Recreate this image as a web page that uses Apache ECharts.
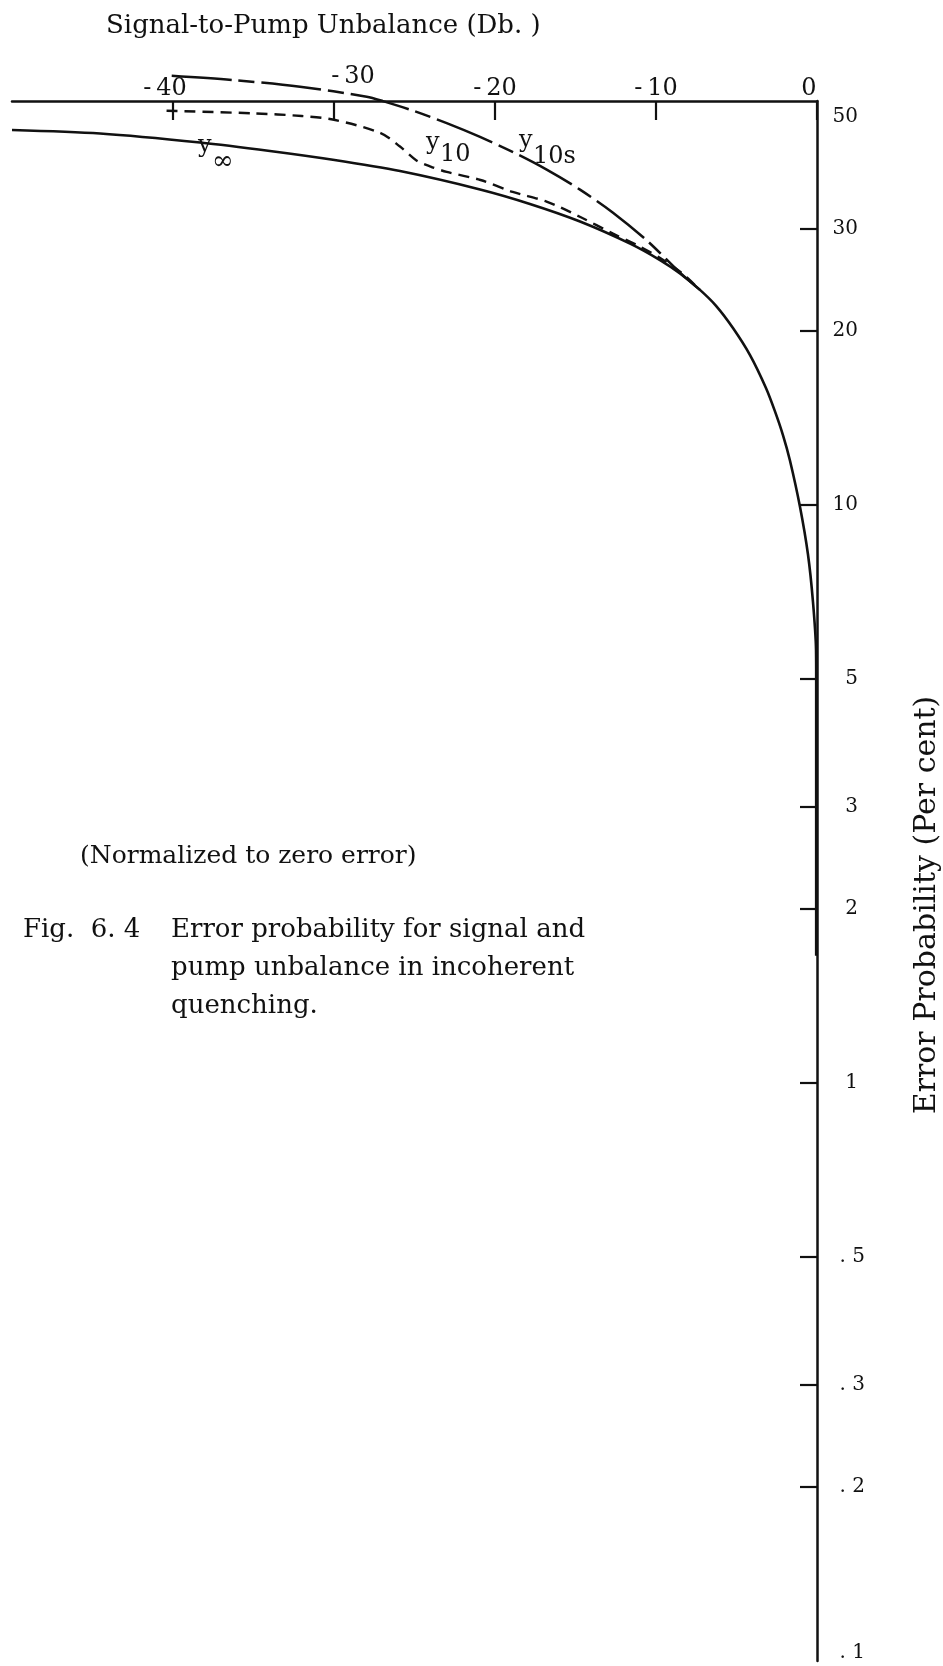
<!DOCTYPE html>
<html><head><meta charset="utf-8">
<script src="https://cdn.jsdelivr.net/npm/echarts@6/dist/echarts.min.js"></script>
<style>html,body{margin:0;padding:0;background:#fff}#c{width:943px;height:1666px}</style>
</head><body><div id="c"></div>
<script>
// ---- data ----
const xTickValues = [-40, -30, -20, -10, 0];
const xTickLabels = ['-\u200940', '-\u200930', '-\u200920', '-\u200910', '0'];
const yTickValues = [30, 20, 10, 5, 3, 2, 1, 0.5, 0.3, 0.2];
const yLabelValues = [50, 30, 20, 10, 5, 3, 2, 1, 0.5, 0.3, 0.2, 0.1];
const yLabelTexts = ['50', '30', '20', '10', '5', '3', '2', '1', '. 5', '. 3', '. 2', '. 1'];

// y-infinity (solid)
const yInfDb  = [-50, -44.53, -38.32, -33.98, -30.07, -25.90, -20.93, -17.83, -14.72, -11.61, -9.75, -8.51, -7.27, -6.27, -5.22, -4.16, -3.17, -2.61, -2.11, -1.68, -1.06, -0.56, -0.25, -0.06, -0.05, -0.05, -0.05, -0.05];
const yInfPct = [44.55, 43.93, 42.38, 40.98, 39.57, 37.82, 35.15, 33.18, 30.94, 28.33, 26.53, 25.15, 23.56, 22.11, 20.24, 18.17, 15.94, 14.52, 13.20, 11.94, 9.94, 8.21, 6.80, 5.61, 4.98, 3.0, 2.2, 1.66];
// y10 (short dashes)
const y10Db  = [-40.4, -35, -32, -30, -27.1, -25.9, -24.9, -24.0, -23.0, -20.9, -18.9, -16.8, -14.7, -12.7, -11.0, -9.6, -8.4, -7.27];
const y10Pct = [48.1, 47.6, 47.1, 46.4, 44.0, 41.7, 39.5, 38.5, 37.7, 36.5, 34.8, 33.5, 31.5, 29.5, 28.0, 26.6, 25.2, 23.56];
// y10s (long dashes)
const y10sDb  = [-40.08, -36.27, -32.11, -27.97, -26.96, -25.09, -23.0, -20.93, -18.88, -16.79, -14.72, -12.67, -10.58, -8.51, -7.27];
const y10sPct = [55.30, 54.36, 52.93, 50.86, 49.98, 48.11, 45.77, 43.33, 40.79, 38.04, 35.13, 32.05, 28.70, 25.24, 23.56];

const titleText = 'Signal-to-Pump Unbalance (Db. )';
const yNameText = 'Error Probability (Per cent)';
const noteText = '(Normalized to zero error)';
const captionHead = 'Fig.  6. 4';
const captionLines = ['Error probability for signal and', 'pump unbalance in incoherent', 'quenching.'];

// ---- build ----
const FONT = '"DejaVu Serif", serif';
const INK = '#111';
const toPts = (xs, ps) => xs.map((x, i) => [x, Math.log10(ps[i])]);

function nearest(arr, v, f) {
  let best = 0, bd = 1e9;
  arr.forEach((p, i) => { const d = Math.abs(f(p) - v); if (d < bd) { bd = d; best = i; } });
  return best;
}
function yLabelFmt(v) {
  const i = nearest(yLabelValues, v, Math.log10);
  const t = yLabelTexts[i];
  if (i === 0) return '{top|' + t + '}';
  if (i === yLabelValues.length - 1) return '{bot|' + t + '}';
  return t.charAt(0) === '.' ? '{dec|' + t + '}' : '{int|' + t + '}';
}
function xLabelFmt(v) {
  const i = nearest(xTickValues, v, a => a);
  const t = xTickLabels[i];
  const val = xTickValues[i];
  if (val === -30) return '{up|' + t + '}';
  if (val === -40 || val === 0) return '{sh|' + t + '}';
  return '{n|' + t + '}';
}

const chart = echarts.init(document.getElementById('c'), null, { renderer: 'canvas' });
const lineBase = { type: 'line', symbol: 'none', showSymbol: false, clip: false, silent: true, animation: false };
const xl = { fontFamily: FONT, fontSize: 24, color: INK };
const yl = { fontFamily: FONT, fontSize: 20, color: INK };

chart.setOption({
  backgroundColor: '#fff',
  animation: false,
  grid: { left: 12, right: 126, top: 101, bottom: 5, containLabel: false, outerBoundsMode: 'none' },
  xAxis: {
    type: 'value', position: 'top', min: -50, max: 0,
    splitLine: { show: false },
    axisLine: { onZero: false, lineStyle: { color: INK, width: 2.5 } },
    axisTick: { inside: true, length: 19, customValues: xTickValues, lineStyle: { color: INK, width: 2.2 } },
    axisLabel: {
      customValues: xTickValues, formatter: xLabelFmt, color: INK,
      fontFamily: FONT, fontSize: 24, margin: 0,
      rich: {
        n: Object.assign({}, xl),
        sh: Object.assign({ padding: [0, 16, 0, 0] }, xl),
        up: Object.assign({ padding: [0, 0, 12, 38] }, xl)
      }
    }
  },
  yAxis: {
    type: 'value', position: 'right', min: Math.log10(0.1), max: Math.log10(50),
    splitLine: { show: false },
    axisLine: { onZero: false, lineStyle: { color: INK, width: 2.5 } },
    axisTick: { inside: true, length: 17, customValues: yTickValues.map(Math.log10), lineStyle: { color: INK, width: 2.2 } },
    axisLabel: {
      customValues: yLabelValues.map(Math.log10), formatter: yLabelFmt, color: INK,
      fontFamily: FONT, fontSize: 20, margin: 48, align: 'right',
      rich: {
        int: Object.assign({ padding: [0, 7, 0, 0] }, yl),
        dec: Object.assign({}, yl),
        top: Object.assign({ padding: [32, 7, 0, 0] }, yl),
        bot: Object.assign({ padding: [0, 0, 16, 0] }, yl)
      }
    }
  },
  series: [
    Object.assign({}, lineBase, { name: 'y∞', data: toPts(yInfDb, yInfPct), smooth: 0.3, lineStyle: { color: INK, width: 2.6 } }),
    Object.assign({}, lineBase, { name: 'y10', data: toPts(y10Db, y10Pct), smooth: 0.3, lineStyle: { color: INK, width: 2.4, type: [11, 7] } }),
    Object.assign({}, lineBase, { name: 'y10s', data: toPts(y10sDb, y10sPct), smooth: 0.3, lineStyle: { color: INK, width: 2.5, type: [60, 7, 16, 7] } })
  ],
  graphic: [
    { type: 'text', x: 106, y: 26, style: { text: titleText, font: '26px ' + FONT, fill: INK, textAlign: 'left', textVerticalAlign: 'middle' } },
    { type: 'text', x: 927, y: 905, rotation: Math.PI / 2, style: { text: yNameText, font: '30px ' + FONT, fill: INK, textAlign: 'center', textVerticalAlign: 'middle' } },
    { type: 'text', x: 80, y: 856, style: { text: noteText, font: '25px ' + FONT, fill: INK, textAlign: 'left', textVerticalAlign: 'middle' } },
    { type: 'text', x: 23, y: 930, style: { text: captionHead, font: '26px ' + FONT, fill: INK, textAlign: 'left', textVerticalAlign: 'middle' } },
    { type: 'text', x: 171, y: 930, style: { text: captionLines[0], font: '26px ' + FONT, fill: INK, textAlign: 'left', textVerticalAlign: 'middle' } },
    { type: 'text', x: 171, y: 968, style: { text: captionLines[1], font: '26px ' + FONT, fill: INK, textAlign: 'left', textVerticalAlign: 'middle' } },
    { type: 'text', x: 171, y: 1006, style: { text: captionLines[2], font: '26px ' + FONT, fill: INK, textAlign: 'left', textVerticalAlign: 'middle' } },
    // curve labels
    { type: 'text', x: 198, y: 146, style: { text: 'y', font: '24px ' + FONT, fill: INK, textAlign: 'left', textVerticalAlign: 'middle' } },
    { type: 'text', x: 212, y: 162, style: { text: '∞', font: '26px ' + FONT, fill: INK, textAlign: 'left', textVerticalAlign: 'middle' } },
    { type: 'text', x: 426, y: 143, style: { text: 'y', font: '24px ' + FONT, fill: INK, textAlign: 'left', textVerticalAlign: 'middle' } },
    { type: 'text', x: 440, y: 155, style: { text: '10', font: '24px ' + FONT, fill: INK, textAlign: 'left', textVerticalAlign: 'middle' } },
    { type: 'text', x: 519, y: 141, style: { text: 'y', font: '24px ' + FONT, fill: INK, textAlign: 'left', textVerticalAlign: 'middle' } },
    { type: 'text', x: 533, y: 157, style: { text: '10s', font: '24px ' + FONT, fill: INK, textAlign: 'left', textVerticalAlign: 'middle' } }
  ]
});
</script>
</body></html>
